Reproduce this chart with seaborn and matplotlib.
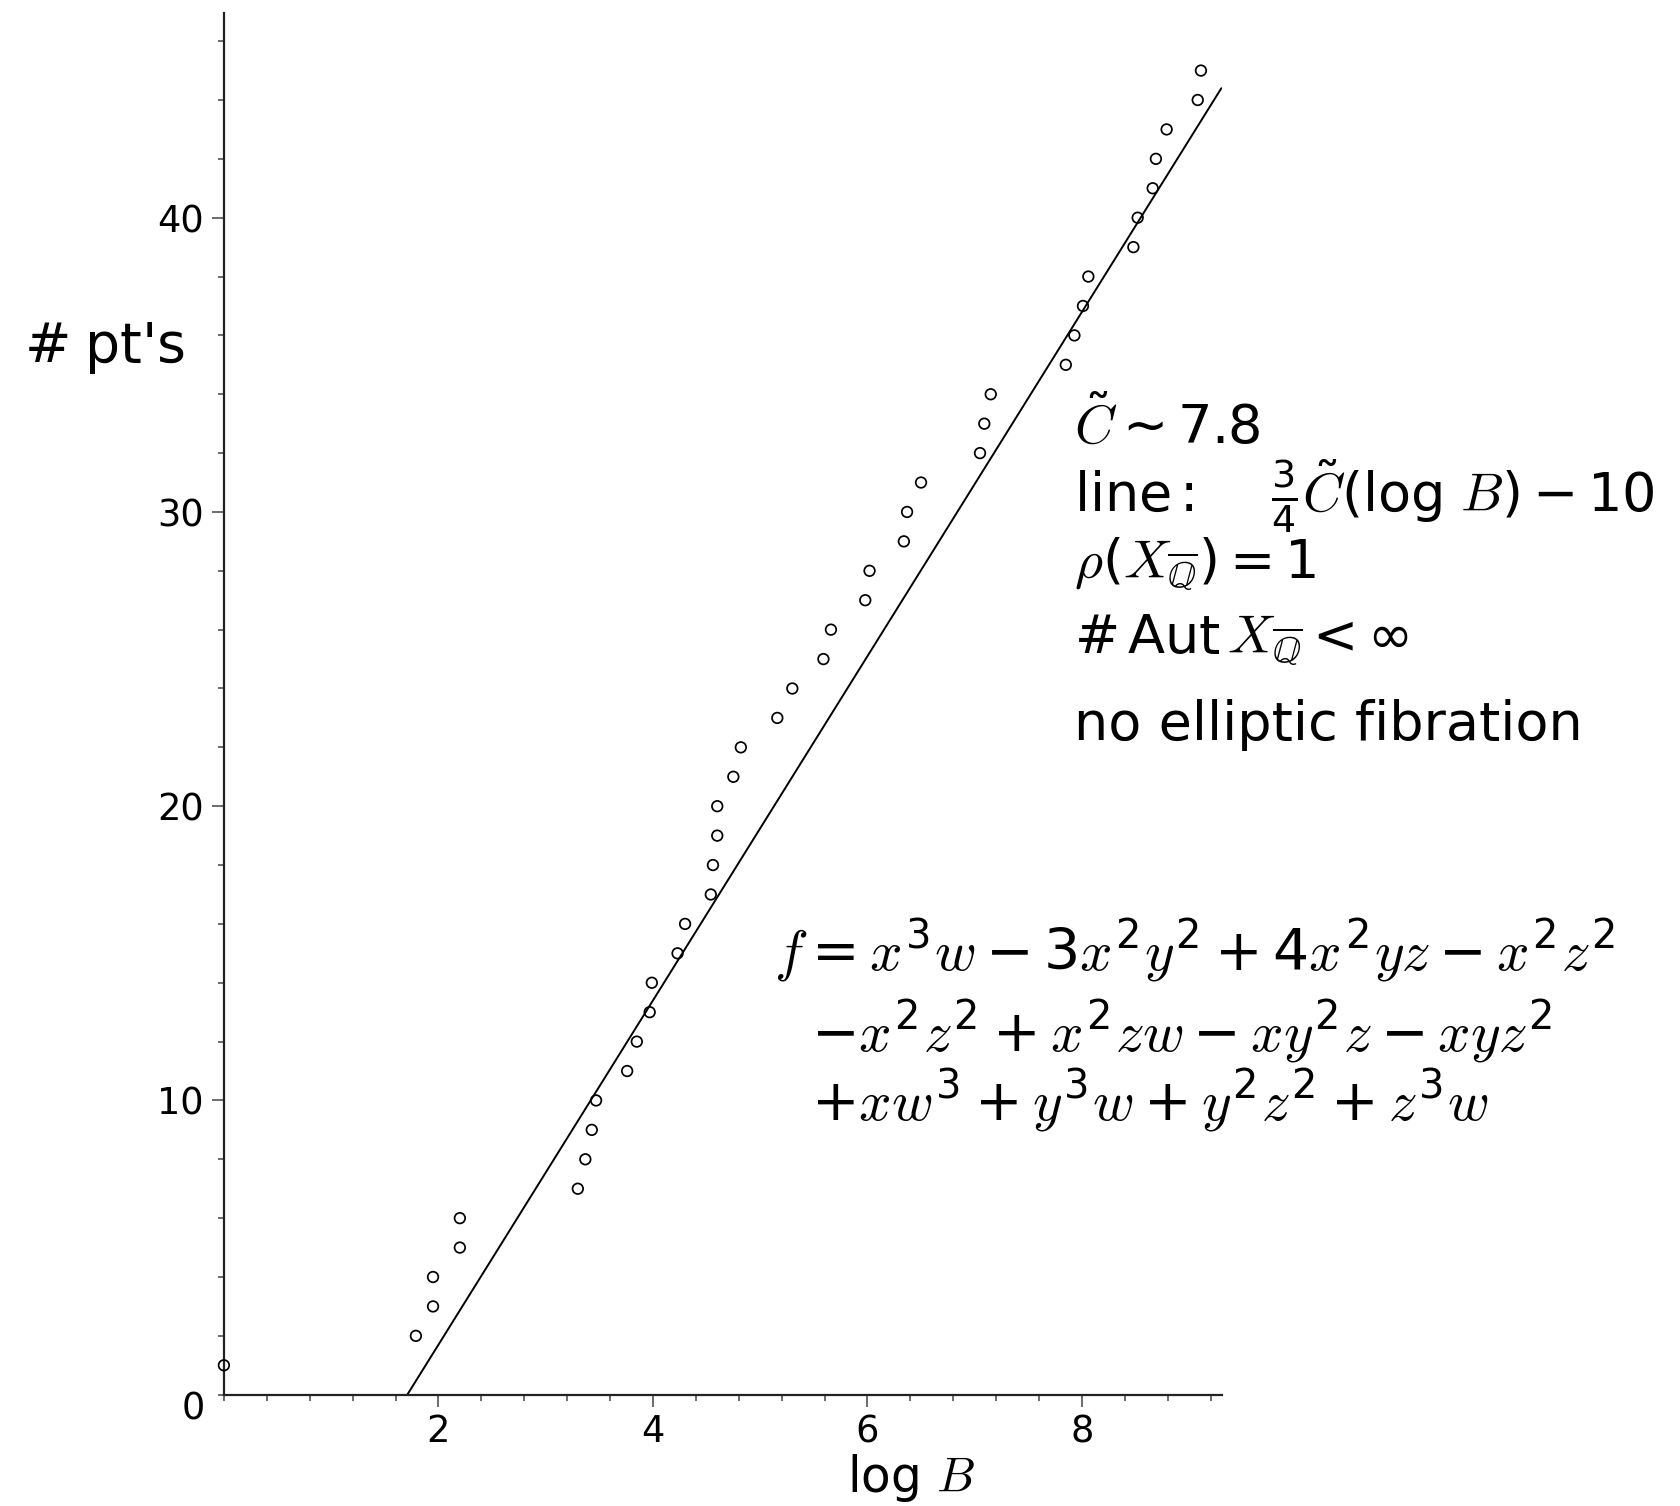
import matplotlib
matplotlib.use("Agg")
import matplotlib.pyplot as plt
import seaborn as sns
import pandas as pd
from matplotlib.ticker import MultipleLocator

# rational points counted up to height B
log_b = [0.00, 1.79, 1.95, 1.95, 2.20, 2.20, 3.30, 3.37, 3.43, 3.47,
         3.76, 3.85, 3.97, 3.99, 4.23, 4.30, 4.54, 4.56, 4.60, 4.60,
         4.75, 4.82, 5.16, 5.30, 5.59, 5.66, 5.98, 6.02, 6.34, 6.37,
         6.50, 7.05, 7.09, 7.15, 7.85, 7.93, 8.01, 8.06, 8.48, 8.52,
         8.66, 8.69, 8.79, 9.08, 9.11]
n_points = [1, 2, 3, 4, 5, 6, 7, 8, 9, 10,
            11, 12, 13, 14, 15, 16, 17, 18, 19, 20,
            21, 22, 23, 24, 25, 26, 27, 28, 29, 30,
            31, 32, 33, 34, 35, 36, 37, 38, 39, 40,
            41, 42, 43, 44, 45]

# the reference line 3/4*C*(log B) - 10, end points
line_x = [1.71, 9.30]
line_y = [0.0, 44.4]

x_ticks = [2, 4, 6, 8]
y_ticks = [10, 20, 30, 40]

sns.set_theme(style="ticks")
plt.rcParams["font.family"] = ["DejaVu Sans"]
plt.rcParams["text.color"] = "black"
plt.rcParams["xtick.labelcolor"] = "black"
plt.rcParams["ytick.labelcolor"] = "black"
plt.rcParams["mathtext.fontset"] = "custom"
plt.rcParams["mathtext.rm"] = "DejaVu Sans"
plt.rcParams["mathtext.sf"] = "DejaVu Sans"
plt.rcParams["mathtext.it"] = "cmmi10"
plt.rcParams["mathtext.bf"] = "DejaVu Sans:bold"

W, H = 1681, 1506
fig = plt.figure(figsize=(W / 100, H / 100), dpi=100)
ax = fig.add_axes([223.9 / W, 1 - 1394.7 / H, (1222.4 - 223.9) / W, (1394.7 - 12.9) / H])

df = pd.DataFrame({"logB": log_b, "n": n_points})
line_df = pd.DataFrame({"logB": line_x, "n": line_y})

sns.lineplot(data=line_df, x="logB", y="n", color="black", linewidth=1.4, ax=ax)
sns.scatterplot(data=df, x="logB", y="n", marker="o", s=58,
                facecolors="none", edgecolors="black", linewidth=1.25,
                clip_on=False, zorder=3, ax=ax)

ax.set_xlim(0, 9.31)
ax.set_ylim(0, 46.96)
ax.set_xticks(x_ticks)
ax.set_yticks(y_ticks)
ax.xaxis.set_minor_locator(MultipleLocator(0.4))
ax.yaxis.set_minor_locator(MultipleLocator(2))
ax.tick_params(axis="both", which="major", direction="out", length=8.5, width=1.1,
               color="#444444", labelcolor="black", labelsize=26.5)
ax.tick_params(axis="both", which="minor", direction="out", length=4.3, width=1.1,
               color="#444444")
ax.tick_params(axis="x", which="major", pad=5)
ax.tick_params(axis="y", which="major", pad=6)
ax.set_xlabel("")
ax.set_ylabel("")
for side in ["top", "right"]:
    ax.spines[side].set_visible(False)
for side in ["left", "bottom"]:
    ax.spines[side].set_linewidth(1.6)
    ax.spines[side].set_color("#222222")

def fx(px):
    return px / W

def fy(py):
    return 1 - py / H

# shared origin label
fig.text(fx(193), fy(1409), "0", fontsize=26.5, ha="center", va="center")
fig.text(fx(911), fy(1492), r"log $B$", fontsize=35, ha="center", va="baseline")
fig.text(fx(104), fy(348), r"$\#\;$pt's", fontsize=40, ha="center", va="center")

ann = [
    (444, r"$\tilde{C} \sim 7.8$"),
    (512, r"line$\,$:$\quad\;\;\frac{3}{4}\tilde{C}(\log\,B) - 10$"),
    (579, r"$\rho(X_{\overline{\mathbb{Q}}}) = 1$"),
    (654, r"$\#\,\mathrm{Aut}\,X_{\overline{\mathbb{Q}}} < \infty$"),
    (740, "no elliptic fibration"),
]
for py, s in ann:
    fig.text(fx(1074), fy(py), s, fontsize=39, ha="left", va="baseline")

eq = [
    (774, 970, r"$f = x^3w - 3x^2y^2 + 4x^2yz - x^2z^2$"),
    (811, 1051, r"$-x^2z^2 + x^2zw - xy^2z - xyz^2$"),
    (811, 1120, r"$+xw^3 + y^3w + y^2z^2 + z^3w$"),
]
for px, py, s in eq:
    fig.text(fx(px), fy(py), s, fontsize=41, ha="left", va="baseline")

fig.savefig("out.png", dpi=100)
